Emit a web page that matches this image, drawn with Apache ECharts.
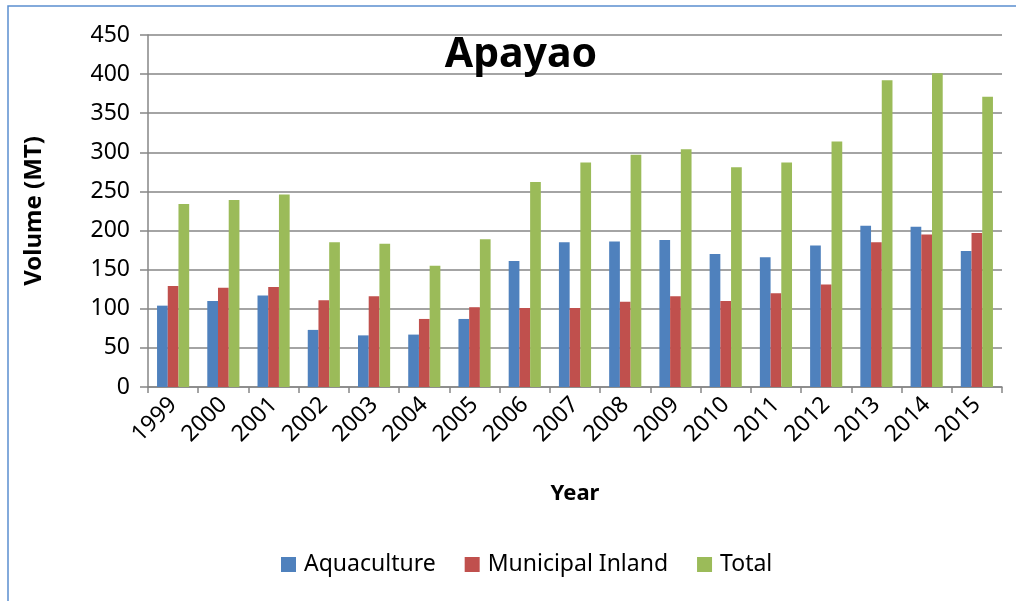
<!DOCTYPE html>
<html>
<head>
<meta charset="utf-8">
<script src="https://cdn.jsdelivr.net/npm/echarts@6/dist/echarts.min.js"></script>
<style>html,body{margin:0;padding:0;background:#fff;}#c{width:1016px;height:601px;}</style>
</head>
<body>
<div id="c"></div>
<script>
var years = ['1999','2000','2001','2002','2003','2004','2005','2006','2007','2008','2009','2010','2011','2012','2013','2014','2015'];
var aquaculture = [104, 110, 117, 73, 66, 67, 87, 161, 185, 186, 188, 170, 166, 181, 206, 205, 174];
var municipalInland = [129, 127, 128, 111, 116, 87, 102, 101, 101, 109, 116, 110, 120, 131, 185, 195, 197];
var total = [234, 239, 246, 185, 183, 155, 189, 262, 287, 297, 304, 281, 287, 314, 392, 401, 371];
var yTicks = [0, 50, 100, 150, 200, 250, 300, 350, 400, 450];

var FONT = '"Noto Sans", "Open Sans", sans-serif';
var chart = echarts.init(document.getElementById('c'));
chart.setOption({
  animation: false,
  backgroundColor: '#ffffff',
  graphic: [{
    type: 'rect',
    shape: {x: 8, y: 6, width: 1100, height: 700},
    style: {fill: 'none', stroke: '#5b8fd0', lineWidth: 1.5},
    silent: true
  }],
  title: {
    text: 'Apayao',
    left: 516, top: 30, textAlign: 'center',
    textStyle: {fontFamily: FONT, fontSize: 41, fontWeight: 'bold', color: '#000'}
  },
  legend: {
    bottom: 20, left: 276,
    itemWidth: 15, itemHeight: 15, itemGap: 29,
    icon: 'rect',
    textStyle: {fontFamily: FONT, fontSize: 23, color: '#000', padding: [0, 0, 0, 3]},
    data: ['Aquaculture', 'Municipal Inland', 'Total']
  },
  grid: {left: 148, right: 14, top: 35, bottom: 214, containLabel: false},
  xAxis: {
    type: 'category',
    data: years,
    name: 'Year', nameLocation: 'middle', nameGap: 96,
    nameTextStyle: {fontFamily: FONT, fontSize: 22, fontWeight: 'bold', color: '#000'},
    axisLine: {lineStyle: {color: '#868686', width: 1.5}},
    axisTick: {show: true, length: 6, lineStyle: {color: '#868686', width: 1.5}},
    axisLabel: {rotate: 45, fontFamily: FONT, fontSize: 23, color: '#000', margin: 14, interval: 0}
  },
  yAxis: {
    type: 'value',
    min: 0, max: 450, interval: 50,
    name: 'Volume (MT)', nameLocation: 'middle', nameGap: 102, nameRotate: 90,
    nameTextStyle: {fontFamily: FONT, fontSize: 24, fontWeight: 'bold', color: '#000'},
    axisLine: {show: true, lineStyle: {color: '#868686', width: 1.5}},
    axisTick: {show: true, length: 8, lineStyle: {color: '#868686', width: 1.5}},
    axisLabel: {fontFamily: FONT, fontSize: 23, color: '#000', margin: 18,
      formatter: function (v) { return yTicks.indexOf(v) >= 0 ? String(v) : ''; }},
    splitLine: {lineStyle: {color: '#868686', width: 1.5}}
  },
  series: [
    {name: 'Aquaculture', type: 'bar', data: aquaculture, barGap: '0%', barCategoryGap: '36%',
      itemStyle: {color: '#4f81bd'}},
    {name: 'Municipal Inland', type: 'bar', data: municipalInland, barGap: '0%', barCategoryGap: '36%',
      itemStyle: {color: '#c0504d'}},
    {name: 'Total', type: 'bar', data: total, barGap: '0%', barCategoryGap: '36%',
      itemStyle: {color: '#9bbb59'}}
  ]
});
</script>
</body>
</html>
